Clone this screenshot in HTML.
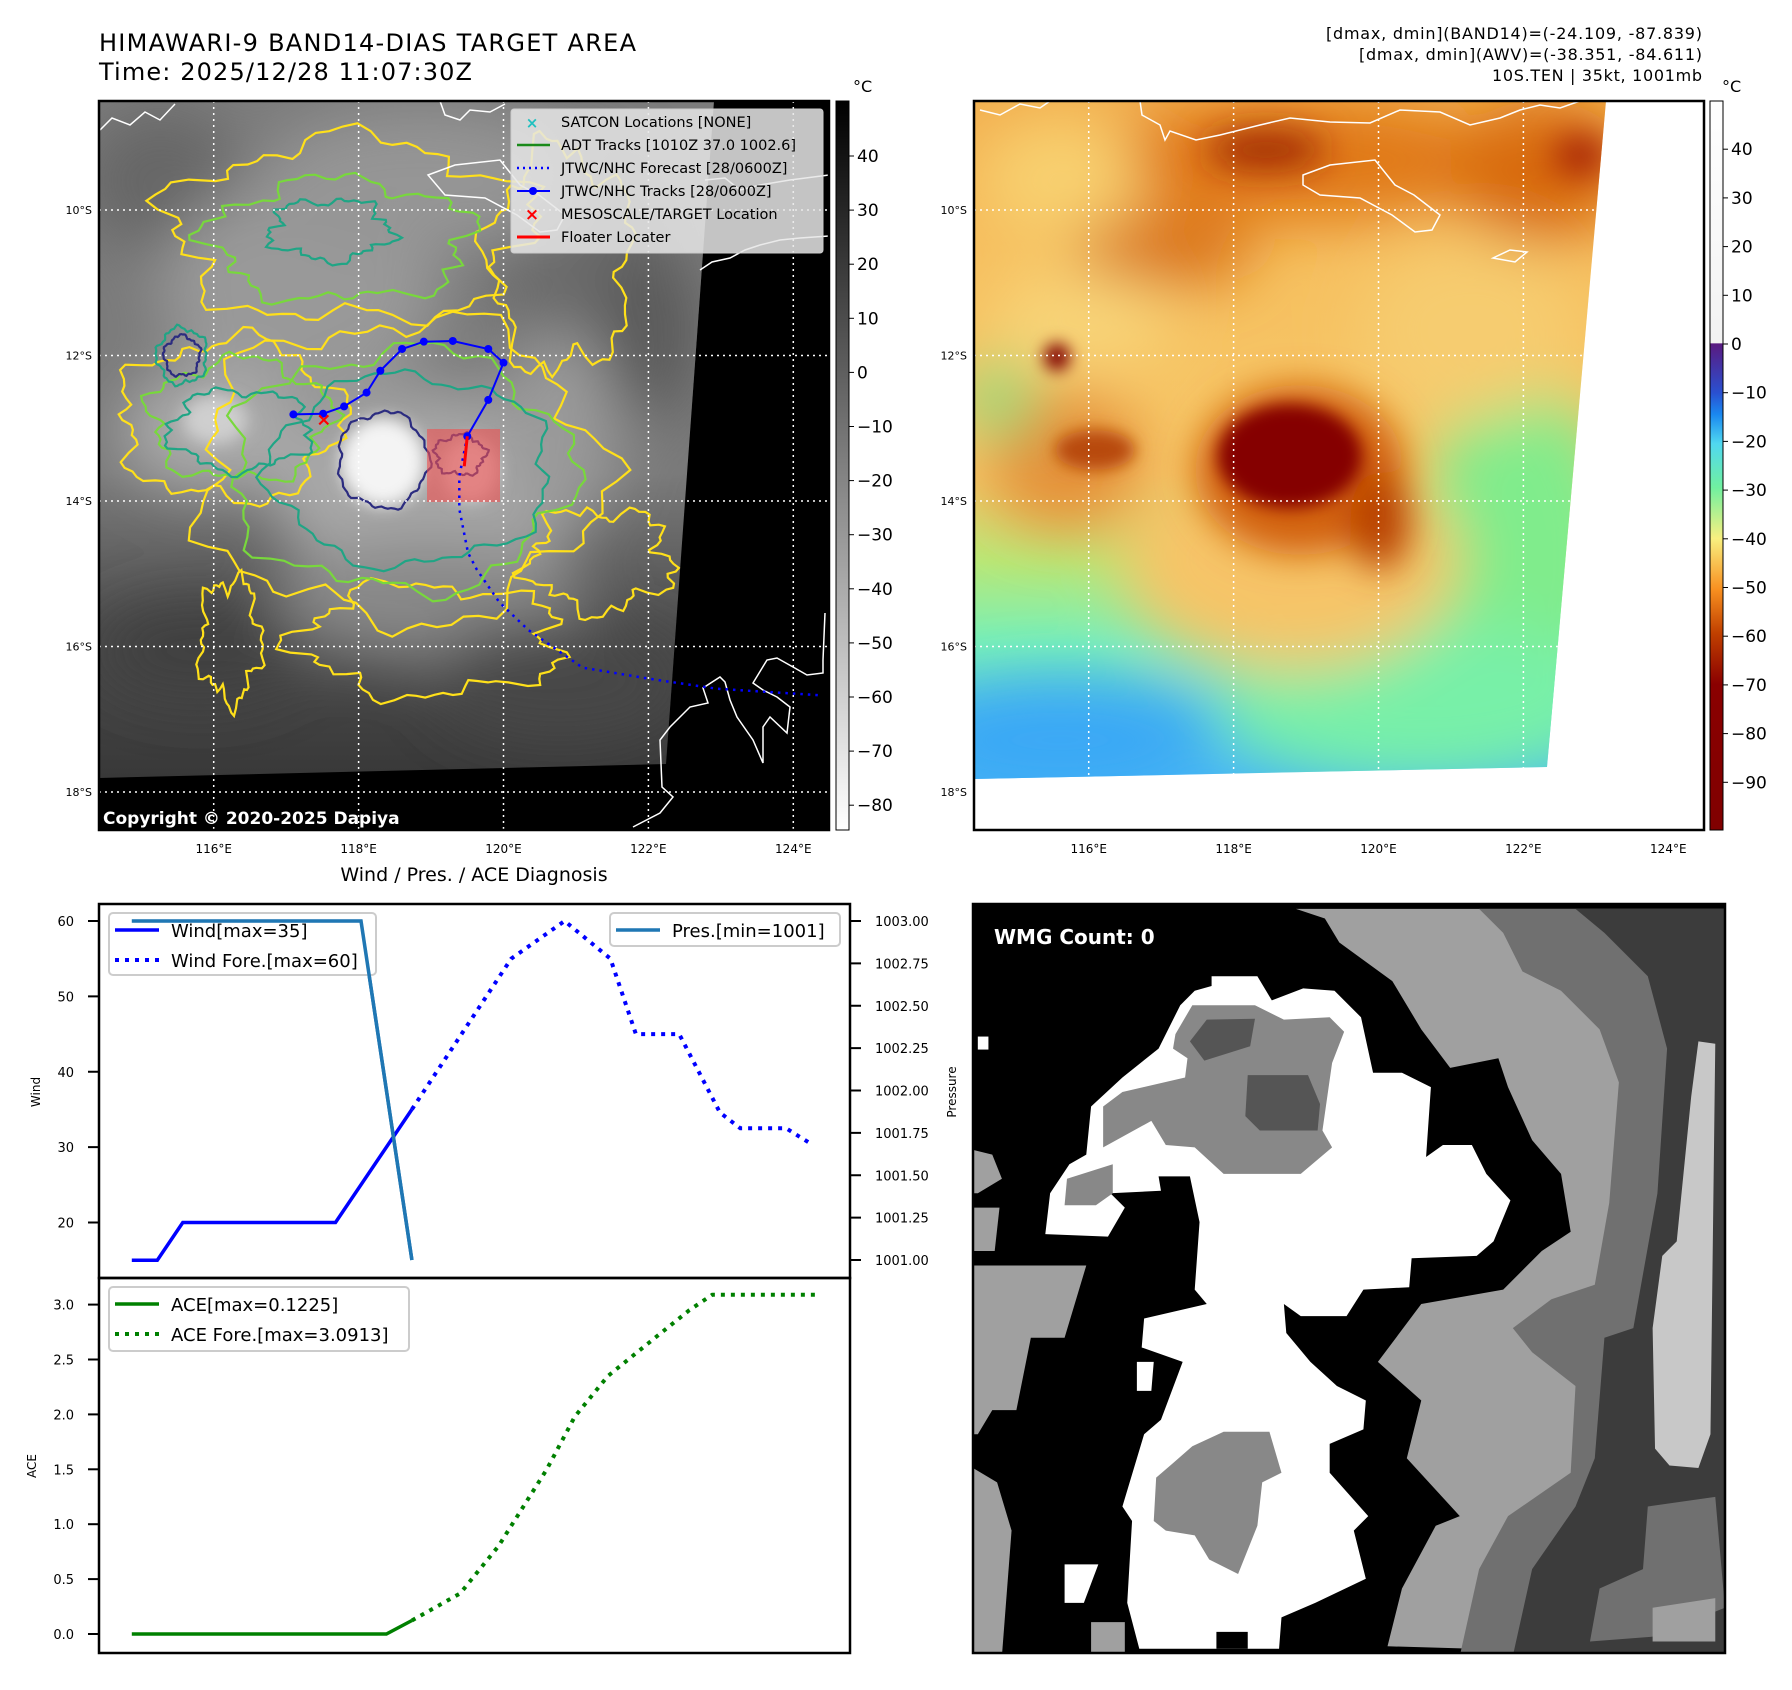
<!DOCTYPE html>
<html><head><meta charset="utf-8"><style>
html,body{margin:0;padding:0;background:#fff;}
svg{display:block;font-family:"DejaVu Sans","Liberation Sans",sans-serif;}
</style></head><body>
<svg id="root" width="1792" height="1690" viewBox="0 0 1792 1690" xmlns="http://www.w3.org/2000/svg">
<defs>
  <clipPath id="clip1"><rect x="99" y="101" width="730" height="729"/></clipPath>
  <clipPath id="clip2"><rect x="974" y="101" width="730" height="729"/></clipPath>
  <clipPath id="data1"><polygon points="99,101 714,101 666,764 99,778"/></clipPath>
  <clipPath id="data2"><polygon points="974,101 1606,101 1547,767 974,779"/></clipPath>
  <clipPath id="clipW"><rect x="973" y="904" width="752" height="749"/></clipPath>
  <filter id="b8" x="-50%" y="-50%" width="200%" height="200%"><feGaussianBlur stdDeviation="8"/></filter>
  <filter id="b18" x="-50%" y="-50%" width="200%" height="200%"><feGaussianBlur stdDeviation="18"/></filter>
  <filter id="b30" x="-50%" y="-50%" width="200%" height="200%"><feGaussianBlur stdDeviation="30"/></filter>
  <linearGradient id="g1base" x1="0" y1="101" x2="0" y2="778" gradientUnits="userSpaceOnUse">
    <stop offset="0" stop-color="#7c7c7c"/><stop offset="0.55" stop-color="#7a7a7a"/>
    <stop offset="0.78" stop-color="#4e4e4e"/><stop offset="1" stop-color="#383838"/>
  </linearGradient>
  <linearGradient id="g2base" x1="0" y1="101" x2="0" y2="779" gradientUnits="userSpaceOnUse">
    <stop offset="0" stop-color="#f2b050"/><stop offset="0.25" stop-color="#f6c060"/>
    <stop offset="0.55" stop-color="#f7c868"/><stop offset="0.68" stop-color="#b8e878"/>
    <stop offset="0.8" stop-color="#78f0b8"/><stop offset="1" stop-color="#48b8f4"/>
  </linearGradient>
  <linearGradient id="cb1" x1="0" y1="101" x2="0" y2="830" gradientUnits="userSpaceOnUse">
    <stop offset="0" stop-color="#000"/><stop offset="1" stop-color="#fff"/>
  </linearGradient>
  <linearGradient id="cb2" x1="0" y1="101" x2="0" y2="830" gradientUnits="userSpaceOnUse">
    <stop offset="0" stop-color="#ffffff"/><stop offset="0.332" stop-color="#f2f2f2"/>
    <stop offset="0.333" stop-color="#5a1a80"/><stop offset="0.40" stop-color="#2a50d0"/>
    <stop offset="0.43" stop-color="#1a88f0"/><stop offset="0.47" stop-color="#50d8f0"/>
    <stop offset="0.53" stop-color="#70f0a0"/><stop offset="0.60" stop-color="#f8f080"/>
    <stop offset="0.67" stop-color="#f89020"/><stop offset="0.73" stop-color="#c04000"/>
    <stop offset="0.80" stop-color="#8a0000"/><stop offset="1" stop-color="#800000"/>
  </linearGradient>
</defs>

<text x="99" y="51" font-size="24" textLength="537">HIMAWARI-9 BAND14-DIAS TARGET AREA</text>
<text x="99" y="80" font-size="24" textLength="373">Time: 2025/12/28 11:07:30Z</text>
<g font-size="16" text-anchor="end">
  <text x="1702" y="39" textLength="376">[dmax, dmin](BAND14)=(-24.109, -87.839)</text>
  <text x="1702" y="60" textLength="343">[dmax, dmin](AWV)=(-38.351, -84.611)</text>
  <text x="1702" y="81" textLength="210">10S.TEN | 35kt, 1001mb</text>
</g>

<g id="map1" clip-path="url(#clip1)">
  <rect x="99" y="101" width="730" height="729" fill="#000"/>
  <g clip-path="url(#data1)">
    <rect x="99" y="101" width="620" height="680" fill="url(#g1base)"/>
    <g filter="url(#b30)">
      <ellipse cx="160" cy="180" rx="80" ry="70" fill="#666"/>
      <ellipse cx="580" cy="250" rx="90" ry="110" fill="#6a6a6a"/>
      <ellipse cx="300" cy="290" rx="140" ry="110" fill="#999"/>
      <ellipse cx="420" cy="180" rx="160" ry="70" fill="#959595"/>
      <ellipse cx="210" cy="430" rx="90" ry="60" fill="#acacac"/>
      <ellipse cx="430" cy="490" rx="160" ry="100" fill="#a8a8a8"/>
      <ellipse cx="560" cy="430" rx="60" ry="100" fill="#9a9a9a"/>
      <ellipse cx="430" cy="600" rx="160" ry="60" fill="#888"/>
      <ellipse cx="200" cy="650" rx="110" ry="50" fill="#404040"/>
      <ellipse cx="560" cy="680" rx="130" ry="60" fill="#464646"/>
      <ellipse cx="650" cy="330" rx="50" ry="90" fill="#5a5a5a"/>
    </g>
    <g filter="url(#b8)">
      <ellipse cx="383" cy="462" rx="42" ry="44" fill="#f4f4f4"/>
      <ellipse cx="470" cy="470" rx="28" ry="32" fill="#d0d0d0"/>
      <ellipse cx="215" cy="420" rx="32" ry="24" fill="#cfcfcf"/>
    </g>
    <g id="contours" fill="none" stroke-width="2.2"></g>
  </g>
  <rect x="427" y="429" width="73" height="73" fill="#f05050" fill-opacity="0.6"/>
  <g fill="none" stroke="#fff" stroke-width="1.5">
    <path d="M633,827 L660,813 L673,797 L662,787 L660,740 L670,727 L690,707 L708,703 L703,688 L720,677 L725,682 L730,700 L737,717 L753,740 L763,763 L763,727 L770,717 L787,733 L790,707 L777,697 L763,690 L753,683 L767,660 L777,658 L793,667 L807,675 L823,673 L823,660 L825,613"/>
    <path d="M100,130 L112,118 L130,125 L145,112 L160,120 L175,104"/>
    <path d="M440,101 L445,115 L460,120 L470,110 L490,112 L505,104"/>
    <path d="M428,175 L455,165 L500,160 L520,185 L539,195 L565,215 L557,230 L540,232 L517,215 L485,198 L445,195 Z"/>
    <path d="M700,270 L712,262 L730,258 L745,250 L760,245 L780,240 L800,238 L829,236"/>
    <path d="M705,180 L725,178 L740,190 L760,185 L790,180 L829,175"/>
  </g>
  <g stroke="#fff" stroke-width="1.5" stroke-dasharray="2 4" id="grid1"></g>
  <g id="tracks1"></g>
  <text x="103" y="824" font-size="17" font-weight="bold" fill="#fff">Copyright © 2020-2025 Dapiya</text>
</g>
<rect x="99" y="101" width="730" height="729" fill="none" stroke="#000" stroke-width="2.5"/>
<g>
  <rect x="511" y="109" width="312" height="144" rx="3" fill="#e6e6e6" fill-opacity="0.85" stroke="#ccc"/>
  <g font-size="14.5">
    <text x="561" y="127">SATCON Locations [NONE]</text>
    <text x="561" y="150">ADT Tracks [1010Z 37.0 1002.6]</text>
    <text x="561" y="173">JTWC/NHC Forecast [28/0600Z]</text>
    <text x="561" y="196">JTWC/NHC Tracks [28/0600Z]</text>
    <text x="561" y="219">MESOSCALE/TARGET Location</text>
    <text x="561" y="242">Floater Locater</text>
  </g>
  <text x="532" y="128" font-size="15" font-weight="bold" fill="#20c0c0" text-anchor="middle">×</text>
  <line x1="517" y1="145" x2="550" y2="145" stroke="#1a8a1a" stroke-width="2.5"/>
  <line x1="517" y1="168" x2="550" y2="168" stroke="#0000ff" stroke-width="2.5" stroke-dasharray="2 4"/>
  <line x1="517" y1="191" x2="550" y2="191" stroke="#0000ff" stroke-width="2"/><circle cx="533" cy="191" r="4" fill="#0000ff"/>
  <text x="532" y="220" font-size="17" font-weight="bold" fill="#f00" text-anchor="middle">×</text>
  <line x1="517" y1="237" x2="550" y2="237" stroke="#f00" stroke-width="3"/>
</g>
<rect x="836" y="101" width="13" height="729" fill="url(#cb1)" stroke="#000" stroke-width="1"/>
<text x="853" y="92" font-size="16">°C</text>
<g id="cb1ticks" font-size="17"></g>

<g clip-path="url(#clip2)">
  <rect x="974" y="101" width="730" height="729" fill="#fff"/>
  <g clip-path="url(#data2)">
    <rect x="974" y="101" width="640" height="680" fill="url(#g2base)"/>
    <g filter="url(#b30)">
      <ellipse cx="1300" cy="160" rx="200" ry="60" fill="#e07818"/>
      <ellipse cx="1540" cy="170" rx="90" ry="70" fill="#d86a10"/>
      <ellipse cx="1060" cy="180" rx="80" ry="60" fill="#f8d070"/>
      <ellipse cx="1165" cy="250" rx="90" ry="35" fill="#d87018"/>
      <ellipse cx="1065" cy="460" rx="80" ry="70" fill="#e49038"/>
      <ellipse cx="1520" cy="560" rx="100" ry="180" fill="#80ec8c"/>
      <ellipse cx="1420" cy="700" rx="200" ry="80" fill="#78f0a8"/>
      <ellipse cx="1290" cy="560" rx="170" ry="110" fill="#f6c468"/>
      <ellipse cx="1470" cy="330" rx="110" ry="90" fill="#f6cc70"/>
      <ellipse cx="1080" cy="320" rx="90" ry="50" fill="#f8d478"/>
      <ellipse cx="1060" cy="740" rx="160" ry="60" fill="#3aa8f6"/>
      <ellipse cx="1000" cy="400" rx="30" ry="40" fill="#80e080"/>
    </g>
    <g filter="url(#b18)">
      <ellipse cx="1266" cy="150" rx="60" ry="18" fill="#9a2000"/>
      <ellipse cx="1581" cy="155" rx="25" ry="16" fill="#900000"/>
      <ellipse cx="1300" cy="470" rx="105" ry="85" fill="#d26010"/>
      <ellipse cx="1380" cy="520" rx="30" ry="50" fill="#b84000"/>
    </g>
    <g filter="url(#b8)">
      <ellipse cx="1290" cy="456" rx="72" ry="52" fill="#850000"/>
      <ellipse cx="1057" cy="357" rx="13" ry="14" fill="#800000"/>
      <ellipse cx="1095" cy="450" rx="40" ry="20" fill="#b84808"/>
    </g>
  </g>
  <g fill="none" stroke="#fff" stroke-width="1.5">
    <path d="M1303,175 L1330,165 L1375,160 L1395,185 L1414,195 L1440,215 L1432,230 L1415,232 L1392,215 L1360,198 L1320,195 L1303,185 Z"/>
    <path d="M1140,101 L1142,115 L1160,125 L1165,140 L1170,131 L1196,140 L1220,135 L1260,125 L1290,118 L1330,122 L1370,123 L1400,110 L1440,112 L1470,125 L1500,118 L1520,110 L1540,105 L1560,108 L1580,101"/>
    <path d="M980,110 L1000,115 L1020,104 L1040,108 L1050,101"/>
    <path d="M1493,258 L1510,250 L1527,252 L1515,262 Z"/>
  </g>
  <g stroke="#fff" stroke-width="1.5" stroke-dasharray="2 4" id="grid2"></g>
</g>
<rect x="974" y="101" width="730" height="729" fill="none" stroke="#000" stroke-width="2.5"/>
<rect x="1710" y="101" width="13" height="729" fill="url(#cb2)" stroke="#000" stroke-width="1"/>
<text x="1722" y="92" font-size="16">°C</text>
<g id="cb2ticks" font-size="17"></g>
<g id="maplabels" font-size="11"></g>

<g clip-path="url(#clipW)">
  <rect x="973" y="904" width="752" height="749" fill="#000"/>
  <g transform="translate(973,904) scale(0.482)">
    <polygon fill="#a0a0a0" points="670,10 1560,10 1560,1560 860,1540 890,1420 960,1290 1010,1270 900,1150 930,1030 840,950 930,830 1100,800 1180,720 1240,680 1220,560 1160,490 1110,380 1090,320 990,340 930,260 870,160 760,80 730,30"/>
    <polygon fill="#707070" points="1050,10 1560,10 1560,1560 1010,1560 1050,1380 1110,1270 1240,1180 1250,1000 1160,930 1120,880 1200,820 1290,790 1320,620 1340,370 1300,260 1220,180 1140,140 1100,60"/>
    <polygon fill="#3c3c3c" points="1250,10 1560,10 1560,1560 1120,1560 1160,1380 1250,1250 1290,1150 1310,900 1370,880 1420,600 1440,300 1400,150 1310,60"/>
    <polygon fill="#c8c8c8" points="1505,285 1540,290 1530,1100 1505,1170 1445,1165 1415,1130 1410,880 1430,730 1460,700 1490,400"/>
    <polygon fill="#707070" points="1400,1250 1540,1230 1560,1460 1410,1520 1280,1530 1300,1420 1390,1380"/>
    <polygon fill="#a0a0a0" points="1410,1460 1540,1440 1540,1530 1410,1530"/>
    <polygon fill="#a0a0a0" points="0,750 235,750 190,900 120,900 90,1050 40,1050 10,1100 0,1100"/>
    <polygon fill="#a0a0a0" points="0,1170 50,1200 80,1300 60,1560 0,1560"/>
    <polygon fill="#a0a0a0" points="0,510 40,520 60,570 10,600 0,600"/>
    <polygon fill="#a0a0a0" points="0,630 55,630 45,720 0,720"/>
    <polygon fill="#a0a0a0" points="245,1490 315,1490 315,1560 245,1560"/>
    <polygon fill="#fff" points="495,150 590,150 620,200 685,175 750,180 805,235 830,350 890,350 950,380 940,525 975,500 1035,500 1065,560 1115,615 1080,700 1045,730 910,735 905,795 810,800 775,855 680,855 645,830 650,890 700,950 755,1000 815,1030 810,1090 740,1120 740,1180 820,1270 790,1300 815,1400 710,1450 640,1480 635,1545 345,1545 320,1450 330,1280 310,1250 355,1100 390,1070 435,950 350,920 355,860 485,830 460,800 470,660 450,565 385,565 390,595 285,600 315,630 280,690 150,685 160,600 200,540 235,520 245,420 310,360 385,300 430,210 460,180 495,170"/>
    <polygon fill="#888" points="455,210 585,210 645,240 740,235 770,265 745,330 725,470 745,505 680,560 520,560 460,505 400,500 370,450 270,505 270,420 310,390 440,360 445,320 415,300 420,270"/>
    <polygon fill="#555" points="485,240 585,238 575,295 480,325 450,285"/>
    <polygon fill="#555" points="570,355 695,355 720,415 715,470 595,470 565,440"/>
    <polygon fill="#888" points="195,570 290,540 290,600 255,625 190,625"/>
    <polygon fill="#888" points="520,1095 615,1095 640,1180 600,1200 590,1290 550,1390 490,1360 460,1310 400,1300 375,1280 380,1190 415,1160 455,1125"/>
    <polygon fill="#000" points="505,1510 570,1510 570,1545 505,1545"/>
    <polygon fill="#fff" points="190,1370 260,1370 230,1450 190,1450"/>
    <polygon fill="#fff" points="340,950 375,950 370,1010 340,1010"/>
    <polygon fill="#fff" points="10,275 32,275 32,302 10,302"/>
  </g>
  <text x="994" y="944" font-size="20" font-weight="bold" fill="#fff">WMG Count: 0</text>
</g>
<rect x="973" y="904" width="752" height="749" fill="none" stroke="#000" stroke-width="2.5"/>

<text x="474" y="881" font-size="19" text-anchor="middle">Wind / Pres. / ACE Diagnosis</text>
<g id="chart"></g>
</svg>
<script>
const windObsX = [0, 1, 2, 8, 11];
const windObsY = [15, 15, 20, 20, 35];
const windForeX = [11, 14.9, 17, 18.8, 19.8, 21.5, 23.1, 23.9, 25.7, 26.6];
const windForeY = [35, 55, 60, 55, 45, 45, 34.6, 32.5, 32.5, 30.6];
const presX = [0, 9, 11];
const presY = [1003, 1003, 1001];
const aceObsX = [0, 10, 11];
const aceObsY = [0, 0, 0.1225];
const aceForeX = [11, 12.9, 14.4, 16.3, 17.4, 18.7, 20.3, 21.9, 22.8, 26.9];
const aceForeY = [0.1225, 0.37, 0.8, 1.5, 1.98, 2.35, 2.65, 2.95, 3.09, 3.09];
const windTicks = [20, 30, 40, 50, 60];
const presTicks = [1001, 1001.25, 1001.5, 1001.75, 1002, 1002.25, 1002.5, 1002.75, 1003];
const aceTicks = [0, 0.5, 1.0, 1.5, 2.0, 2.5, 3.0];
const trackLon = [117.10, 117.51, 117.80, 118.11, 118.30, 118.60, 118.90, 119.30, 119.79, 120.00, 119.79, 119.50];
const trackLat = [12.81, 12.80, 12.70, 12.51, 12.21, 11.91, 11.81, 11.80, 11.91, 12.10, 12.61, 13.11];
const foreLon = [119.50, 119.39, 119.39, 119.51, 119.63, 119.94, 120.34, 121.09, 121.99, 122.94, 124.36];
const foreLat = [13.11, 13.66, 14.11, 14.71, 14.94, 15.39, 15.77, 16.29, 16.44, 16.58, 16.67];
const targetLon = [117.52];
const targetLat = [12.88];
const lonTicks = [116, 118, 120, 122, 124];
const latTicks = [10, 12, 14, 16, 18];
const cb1Ticks = [40, 30, 20, 10, 0, -10, -20, -30, -40, -50, -60, -70, -80];
const cb2Ticks = [40, 30, 20, 10, 0, -10, -20, -30, -40, -50, -60, -70, -80, -90];

const NS = 'http://www.w3.org/2000/svg';
function mk(tag, attrs, parent) {
  const e = document.createElementNS(NS, tag);
  for (const k in attrs) e.setAttribute(k, attrs[k]);
  parent.appendChild(e);
  return e;
}
const xS = i => 99 + (i + 1.29) * (751 / 29.5);
const yW = v => 921 + (60 - v) * 7.5375;
const yP = p => 921 + (1003 - p) * 169.5;
const yA = a => 1634 - a * 109.8;
const lonX = (lon, off) => 213.7 + (lon - 116) * 72.45 + (off || 0);
const latY = lat => 210 + (lat - 10) * 72.75;
const pts = (xs, ys, fx, fy) => xs.map((x, i) => fx(x).toFixed(1) + ',' + fy(ys[i]).toFixed(1)).join(' ');

const chart = document.getElementById('chart');
const box1 = mk('rect', {x: 99, y: 904, width: 751, height: 374, fill: 'none', stroke: '#000', 'stroke-width': 2.5}, chart);


const box2 = mk('rect', {x: 99, y: 1278, width: 751, height: 375, fill: 'none', stroke: '#000', 'stroke-width': 2.5}, chart);



windTicks.forEach(v => {
  mk('line', {x1: 88, x2: 99, y1: yW(v), y2: yW(v), stroke: '#000', 'stroke-width': 2}, chart);
  const t = mk('text', {x: 74, y: yW(v) + 5, 'font-size': 13, 'text-anchor': 'end'}, chart);
  t.textContent = v;
  
  
});
presTicks.forEach(v => {
  mk('line', {x1: 850, x2: 861, y1: yP(v), y2: yP(v), stroke: '#000', 'stroke-width': 2}, chart);
  const t = mk('text', {x: 875, y: yP(v) + 5, 'font-size': 13}, chart);
  t.textContent = v.toFixed(2);
  
  
});
aceTicks.forEach(v => {
  mk('line', {x1: 88, x2: 99, y1: yA(v), y2: yA(v), stroke: '#000', 'stroke-width': 2}, chart);
  const t = mk('text', {x: 74, y: yA(v) + 5, 'font-size': 13, 'text-anchor': 'end'}, chart);
  t.textContent = v.toFixed(1);
  
  
});
const wl = mk('text', {x: 0, y: 0, 'font-size': 12, 'text-anchor': 'middle', transform: 'translate(40,1092) rotate(-90)'}, chart);
wl.textContent = 'Wind';


const pl = mk('text', {x: 0, y: 0, 'font-size': 12, 'text-anchor': 'middle', transform: 'translate(956,1092) rotate(-90)'}, chart);
pl.textContent = 'Pressure';


const al = mk('text', {x: 0, y: 0, 'font-size': 12, 'text-anchor': 'middle', transform: 'translate(36,1466) rotate(-90)'}, chart);
al.textContent = 'ACE';



const s1 = mk('polyline', {points: pts(windObsX, windObsY, xS, yW), fill: 'none', stroke: '#0000ff', 'stroke-width': 3.5}, chart);


const s2 = mk('polyline', {points: pts(windForeX, windForeY, xS, yW), fill: 'none', stroke: '#0000ff', 'stroke-width': 4, 'stroke-dasharray': '4 6'}, chart);


const s3 = mk('polyline', {points: pts(presX, presY, xS, yP), fill: 'none', stroke: '#1f77b4', 'stroke-width': 3.5}, chart);


const s4 = mk('polyline', {points: pts(aceObsX, aceObsY, xS, yA), fill: 'none', stroke: '#008000', 'stroke-width': 3.5}, chart);


const s5 = mk('polyline', {points: pts(aceForeX, aceForeY, xS, yA), fill: 'none', stroke: '#008000', 'stroke-width': 4, 'stroke-dasharray': '4 6'}, chart);



function legend(x, y, w, h, items, name) {
  const g = mk('g', {}, chart);
  
  
  mk('rect', {x: x, y: y, width: w, height: h, rx: 4, fill: '#fff', 'fill-opacity': 0.8, stroke: '#ccc', 'stroke-width': 2}, g);
  items.forEach((it, i) => {
    const cy = y + 17 + i * 30;
    const ln = mk('line', {x1: x + 6, x2: x + 50, y1: cy, y2: cy, stroke: it.c, 'stroke-width': it.d ? 4 : 3.5}, g);
    if (it.d) ln.setAttribute('stroke-dasharray', '4 6');
    const t = mk('text', {x: x + 62, y: cy + 7, 'font-size': 18}, g);
    t.textContent = it.t;
  });
}
legend(109, 913, 267, 62, [{c: '#0000ff', t: 'Wind[max=35]'}, {c: '#0000ff', d: 1, t: 'Wind Fore.[max=60]'}], 'wind-legend');
legend(610, 913, 230, 33, [{c: '#1f77b4', t: 'Pres.[min=1001]'}], 'pressure-legend');
legend(109, 1287, 300, 64, [{c: '#008000', t: 'ACE[max=0.1225]'}, {c: '#008000', d: 1, t: 'ACE Fore.[max=3.0913]'}], 'ace-legend');
const s3b = mk('polyline', {points: pts(presX, presY, xS, yP), fill: 'none', stroke: '#1f77b4', 'stroke-width': 3.5}, chart);



const grid1 = document.getElementById('grid1');
const grid2 = document.getElementById('grid2');
[[grid1, 0], [grid2, 875]].forEach(([g, off]) => {
  lonTicks.forEach(l => mk('line', {x1: lonX(l, off), x2: lonX(l, off), y1: 101, y2: 830}, g));
  latTicks.forEach(l => mk('line', {x1: 99 + off, x2: 829 + off, y1: latY(l), y2: latY(l)}, g));
});
const ml = document.getElementById('maplabels');
[0, 875].forEach(off => {
  lonTicks.forEach(l => {
    const t = mk('text', {x: lonX(l, off), y: 853, 'text-anchor': 'middle', 'font-size': 12}, ml);
    t.textContent = l + '°E';
    
    
  });
  latTicks.forEach(l => {
    const t = mk('text', {x: 92 + off, y: latY(l) + 4, 'text-anchor': 'end', 'font-size': 11}, ml);
    t.textContent = l + '°S';
    
    
  });
});
const cbt1 = document.getElementById('cb1ticks');
cb1Ticks.forEach(v => {
  const y = 156 + (40 - v) * 5.41;
  mk('line', {x1: 849, x2: 854, y1: y, y2: y, stroke: '#000'}, cbt1);
  const t = mk('text', {x: 857, y: y + 6}, cbt1);
  t.textContent = v < 0 ? '\u2212' + (-v) : v;
  
  
});
const cbt2 = document.getElementById('cb2ticks');
cb2Ticks.forEach(v => {
  const y = 344 - v * 4.87;
  mk('line', {x1: 1723, x2: 1728, y1: y, y2: y, stroke: '#000'}, cbt2);
  const t = mk('text', {x: 1731, y: y + 6}, cbt2);
  t.textContent = v < 0 ? '\u2212' + (-v) : v;
  
  
});

const cg = document.getElementById('contours');
function blob(cx, cy, rx, ry, amp, seed, color, w) {
  let d = '';
  const n = 90;
  for (let k = 0; k <= n; k++) {
    const a = k / n * Math.PI * 2;
    const r = 1 + amp * (0.5 * Math.sin(a * 5 + seed) + 0.3 * Math.sin(a * 11 + seed * 2.3) + 0.2 * Math.sin(a * 23 + seed * 1.7));
    const x = cx + rx * r * Math.cos(a), y = cy + ry * r * Math.sin(a);
    d += (k ? 'L' : 'M') + x.toFixed(1) + ',' + y.toFixed(1);
  }
  mk('path', {d: d + 'Z', stroke: color, 'stroke-width': w || 2.2}, cg);
}
blob(400, 470, 200, 150, 0.18, 1, '#ffe01a');
blob(230, 420, 110, 80, 0.2, 2, '#ffe01a');
blob(350, 230, 180, 90, 0.22, 3, '#ffe01a');
blob(560, 260, 70, 110, 0.25, 4, '#ffe01a');
blob(430, 640, 130, 55, 0.25, 5, '#ffe01a');
blob(600, 560, 70, 50, 0.3, 6, '#ffe01a');
blob(230, 640, 30, 60, 0.3, 7, '#ffe01a');
blob(400, 470, 170, 120, 0.15, 8, '#78d83c');
blob(240, 420, 90, 60, 0.2, 9, '#78d83c');
blob(340, 240, 130, 60, 0.22, 10, '#78d83c');
blob(410, 470, 140, 95, 0.12, 11, '#20a585');
blob(240, 430, 70, 40, 0.2, 12, '#20a585');
blob(330, 230, 60, 30, 0.25, 13, '#20a585');
blob(383, 460, 45, 48, 0.1, 14, '#2c2c80');
blob(460, 455, 25, 20, 0.2, 15, '#2c2c80');
blob(182, 356, 18, 20, 0.15, 16, '#2c2c80');
blob(182, 356, 25, 28, 0.15, 17, '#20a585');

const tg = document.getElementById('tracks1');
const fl = mk('polyline', {points: pts(foreLon, foreLat, l => lonX(l, 0), latY), fill: 'none', stroke: '#0000ff', 'stroke-width': 2.5, 'stroke-dasharray': '2.5 5'}, tg);


const tl = mk('polyline', {points: pts(trackLon, trackLat, l => lonX(l, 0), latY), fill: 'none', stroke: '#0000ff', 'stroke-width': 2}, tg);


trackLon.forEach((l, i) => {
  const c = mk('circle', {cx: lonX(l, 0), cy: latY(trackLat[i]), r: 4, fill: '#0000ff'}, tg);
  
  
});
const lastX = lonX(trackLon[trackLon.length - 1], 0), lastY = latY(trackLat[trackLat.length - 1]);
mk('line', {x1: lastX, y1: lastY, x2: lastX - 3, y2: lastY + 30, stroke: '#f00', 'stroke-width': 3}, tg);
targetLon.forEach((l, i) => {
  const t = mk('text', {x: lonX(l, 0), y: latY(targetLat[i]) + 6, 'font-size': 18, 'font-weight': 'bold', fill: '#f00', 'text-anchor': 'middle'}, tg);
  t.textContent = '×';
  
  
});
</script>
</body></html>
